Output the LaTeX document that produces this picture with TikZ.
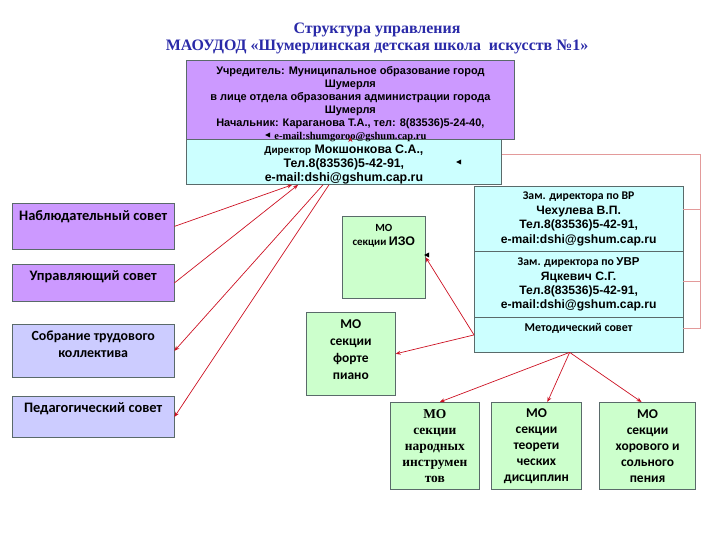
\documentclass[tikz,border=0pt]{standalone}
\usepackage{xcolor}
\usepackage{fontspec}
\usepackage{tikz}
\usetikzlibrary{arrows.meta, positioning}
\setmainfont{Liberation Sans}
\newfontfamily\calib{Carlito}
\newfontfamily\tms{Liberation Serif}
\definecolor{lilac}{HTML}{CC99FF}
\definecolor{lavend}{HTML}{CCCCFF}
\definecolor{aqua}{HTML}{CCFFFF}
\definecolor{mint}{HTML}{CCFFCC}
\definecolor{edge}{HTML}{5A6A6A}
\definecolor{linkred}{HTML}{CC1122}
\definecolor{railred}{HTML}{E39A9A}
\definecolor{titleblue}{HTML}{2A2AA8}

\begin{document}
\begin{tikzpicture}[x=1bp, y=-1bp,
  box/.style={rectangle, draw=edge, line width=0.9pt, anchor=north west, inner sep=0pt, outer sep=0pt, align=center},
  side/.style={box, minimum width=163, font=\calib\bfseries\fontsize{14.5}{17}\selectfont},
  mo/.style={box, fill=mint, font=\calib\bfseries\fontsize{13.5}{16}\selectfont},
  arrow/.style={->, >={Stealth[length=5pt, width=4pt]}, draw=linkred, line width=0.7pt},
  rail/.style={draw=railred, line width=1pt}
]
  \useasboundingbox (0,0) rectangle (720,540);

  \node[font=\tms\bfseries\fontsize{16}{17}\selectfont, text=titleblue, align=center] (title) at (377,38)
    {Структура управления\\МАОУДОД «Шумерлинская детская школа\ \ искусств №1»};

  \node[box, fill=aqua, minimum width=317, text height=44.5, text depth=3.5,
    font=\bfseries\fontsize{12.4}{14}\selectfont] (director) at (186,137)
    {{\fontsize{10}{14}\selectfont Директор} Мокшонкова С.А.,\\Тел.8(83536)5-42-91,\\e-mail:dshi@gshum.cap.ru};
  \node[box, fill=lilac, minimum width=330, text height=79.5, text depth=-13.5,
    font=\bfseries\fontsize{11}{13}\selectfont] (founder) at (186,60)
    {Учредитель: Муниципальное образование город\\Шумерля\\в лице отдела образования администрации города\\Шумерля\\Начальник: Караганова Т.А., тел: 8(83536)5-24-40,\\
     {\tms\fontsize{10.5}{13}\selectfont e-mail:shumgoroo@gshum.cap.ru}};

  \node[side, fill=lilac, text height=18, text depth=29] (nabl) at (12,203) {Наблюдательный совет};
  \node[side, fill=lilac, text height=17, text depth=21] (upr) at (12,264) {Управляющий совет};
  \node[side, fill=lavend, text height=34, text depth=20, font=\calib\bfseries\fontsize{14}{17}\selectfont] (sobr) at (12,324)
    {Собрание трудового\\коллектива};
  \node[side, fill=lavend, text height=17, text depth=25] (ped) at (12,396) {Педагогический совет};

  \node[box, fill=mint, minimum width=84, text height=30, text depth=53,
    font=\calib\bfseries\fontsize{11}{14}\selectfont] (izo) at (342,216)
    {МО\\секции {\rmfamily\fontsize{12.5}{14}\selectfont ИЗО}};
  \node[mo, minimum width=90, text height=67.5, text depth=16.5, font=\calib\bfseries\fontsize{13.5}{17}\selectfont] (forte) at (306,312)
    {МО\\секции\\форте\\пиано};

  \node[box, fill=aqua, minimum width=210, minimum height=66,
    font=\bfseries\fontsize{12.2}{14.8}\selectfont] (vr) at (474,186)
    {{\calib\fontsize{11.8}{14.8}\selectfont Зам. директора по ВР}\\Чехулева В.П.\\Тел.8(83536)5-42-91,\\e-mail:dshi@gshum.cap.ru};
  \node[box, fill=aqua, minimum width=210, minimum height=66, below=0pt of vr,
    font=\bfseries\fontsize{12.2}{14.5}\selectfont] (uvr)
    {{\calib\fontsize{11.8}{14.5}\selectfont Зам. директора по }{\fontsize{11.5}{14.5}\selectfont УВР}\\Яцкевич С.Г.\\Тел.8(83536)5-42-91,\\e-mail:dshi@gshum.cap.ru};
  \node[box, fill=aqua, minimum width=210, text height=14.5, text depth=20.5, below=0pt of uvr,
    font=\calib\bfseries\fontsize{12}{13}\selectfont] (metod) {Методический совет};

  \node[mo, minimum width=90, minimum height=88, font=\tms\bfseries\fontsize{13.5}{16}\selectfont] (narod) at (390,402)
    {МО\\секции\\народных\\инструмен\\тов};
  \node[mo, minimum width=90, minimum height=88, right=12pt of narod] (teor)
    {МО\\секции\\теорети\\ческих\\дисциплин};
  \node[mo, minimum width=97, minimum height=88, right=18pt of teor] (khor)
    {МО\\секции\\хорового и\\сольного\\пения};

  \draw[rail] ([yshift=6pt]director.east) -- ++(199,0) |- ([yshift=6.5pt]metod.east);
  \draw[rail] ([yshift=9pt]vr.east) -- ++(18,0);
  \draw[rail] ([yshift=3pt]uvr.east) -- ++(18,0);

  \draw[arrow] (founder.south) -- (founder.south |- director.north);
  \draw[arrow] (nabl.east) -- ([xshift=-52pt]director.south);
  \draw[arrow] (upr.east) -- ([xshift=-46pt]director.south);
  \draw[arrow] ([xshift=-21pt]director.south) -- (sobr.east);
  \draw[arrow] ([xshift=-15pt]director.south) -- (ped.east);
  \draw[arrow] (metod.west) -- (izo.east);
  \draw[arrow] (metod.west) -- (forte.east);
  \draw[arrow] ([xshift=-9pt]metod.south) -- ([xshift=5pt]narod.north);
  \draw[arrow] ([xshift=-9pt]metod.south) -- ([xshift=11pt]teor.north);
  \draw[arrow] ([xshift=-9pt]metod.south) -- ([xshift=-6pt]khor.north);

  \fill (265,135) -- ++(5,-2.5) -- ++(0,5) -- cycle;
  \fill (456,162) -- ++(5,-2.5) -- ++(0,5) -- cycle;
  \fill (424,255) -- ++(5,-2.5) -- ++(0,5) -- cycle;
\end{tikzpicture}
\end{document}
